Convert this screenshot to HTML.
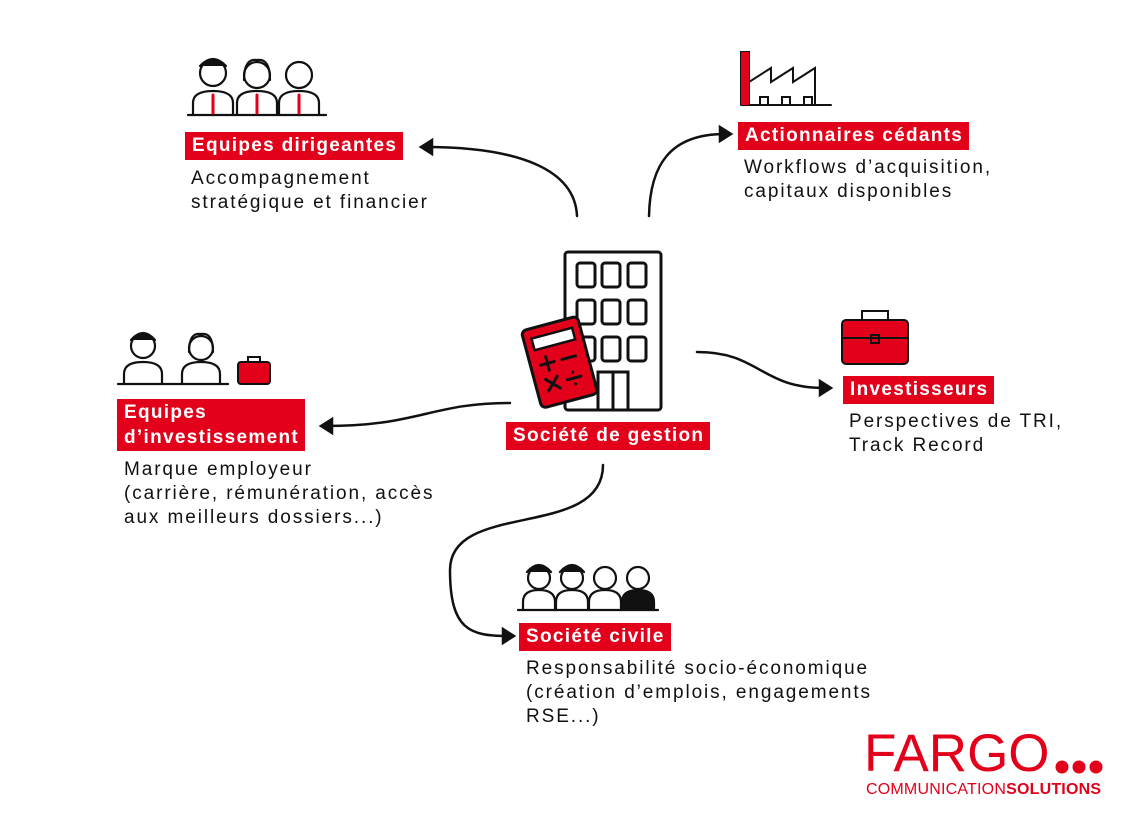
<!DOCTYPE html>
<html><head><meta charset="utf-8"><style>
body{margin:0;width:1140px;height:834px;background:#fff;position:relative;overflow:hidden;font-family:"Liberation Sans",sans-serif;}
.lab{position:absolute;background:#e2001a;color:#fff;font-weight:bold;font-size:19px;letter-spacing:1.3px;line-height:26px;padding:1px 6px 1px 7px;white-space:nowrap;}
.d{position:absolute;font-size:19px;letter-spacing:1.9px;line-height:24px;color:#111;white-space:nowrap;}
svg{position:absolute;left:0;top:0}
</style></head><body>
<svg width="1140" height="834" viewBox="0 0 1140 834" fill="none" stroke="#111" stroke-width="2.5" stroke-linecap="round">
<path d="M577 216 C575 170 520 147 425 147"/><path d="M432 140 L421 147 L432 154 Z" fill="#111"/>
<path d="M649 216 C650 165 670 134 725 134"/><path d="M720 127 L731 134 L720 141 Z" fill="#111"/>
<path d="M697 352 C760 352 760 388 825 388"/><path d="M820 381 L831 388 L820 395 Z" fill="#111"/>
<path d="M510 403 C430 403 420 426 325 426"/><path d="M332 419 L321 426 L332 433 Z" fill="#111"/>
<path d="M603 465 C603 540 450 500 450 570 C450 630 470 636 508 636"/><path d="M503 629 L514 636 L503 643 Z" fill="#111"/>
<rect x="565" y="252" width="96" height="158" rx="3" stroke-width="3"/>
<g stroke-width="3"><rect x="577" y="263" width="18" height="24" rx="3"/><rect x="602" y="263" width="18" height="24" rx="3"/><rect x="628" y="263" width="18" height="24" rx="3"/>
<rect x="577" y="300" width="18" height="24" rx="3"/><rect x="602" y="300" width="18" height="24" rx="3"/><rect x="628" y="300" width="18" height="24" rx="3"/>
<rect x="577" y="337" width="18" height="24" rx="3"/><rect x="602" y="337" width="18" height="24" rx="3"/><rect x="628" y="337" width="18" height="24" rx="3"/>
<rect x="598" y="372" width="30" height="38"/><line x1="613" y1="372" x2="613" y2="410"/></g>
<g transform="rotate(-15 560 360)"><rect x="530" y="322" width="58" height="80" rx="5" fill="#e2001a" stroke-width="3"/><rect x="538" y="332" width="42" height="12" fill="#fff"/>
<path d="M540 360 h14 M547 353 v14 M562 360 h14 M541 375 l12 12 M553 375 l-12 12 M562 381 h14 M569 375 v0.1 M569 387 v0.1" stroke-width="3"/></g>
<path d="M741 105 V52 h8 V105 M749 105 V82 l22-14 v14 l22-14 v14 l22-14 v14 l0 23 M741 105 h90 M760 105 v-8 h8 v8 M782 105 v-8 h8 v8 M804 105 v-8 h8 v8" stroke-width="2"/>
<rect x="741" y="52" width="8" height="53" fill="#e2001a" stroke="none"/>
<rect x="842" y="320" width="66" height="44" rx="4" fill="#e2001a" stroke-width="2"/><path d="M862 320 v-9 h26 v9 M842 338 h66 M871 335 h8 v8 h-8z" stroke-width="2"/>
<rect x="238" y="362" width="32" height="22" rx="3" fill="#e2001a" stroke-width="2"/><path d="M248 362 v-5 h12 v5" stroke-width="2"/>
<g stroke-width="2.2">
<circle cx="213" cy="73" r="13"/><path d="M200 66 q13-14 26 0" fill="#111"/><path d="M193 115 v-12 q0-12 20-12 q20 0 20 12 v12"/>
<circle cx="257" cy="75" r="13"/><path d="M244 80 q0-22 13-20 q13-2 13 20"/><path d="M237 115 v-12 q0-12 20-12 q20 0 20 12 v12"/>
<circle cx="299" cy="75" r="13"/><path d="M279 115 v-12 q0-12 20-12 q20 0 20 12 v12"/>
<path d="M188 115 h138"/></g>
<path d="M213 95 v18 M257 95 v18 M299 95 v18" stroke="#e2001a" stroke-width="3"/>
<g stroke-width="2.2">
<circle cx="143" cy="346" r="12" /><path d="M131 340 q12-14 24 0" fill="#111"/><path d="M124 384 v-10 q0-12 19-12 q19 0 19 12 v10"/>
<circle cx="201" cy="348" r="12"/><path d="M189 352 q0-20 12-18 q12-2 12 18"/><path d="M182 384 v-10 q0-12 19-12 q19 0 19 12 v10"/>
<path d="M118 384 h110"/></g>
<g stroke-width="2.2">
<circle cx="539" cy="578" r="11"/><path d="M527 572 q12-14 24 0" fill="#111"/><path d="M523 610 v-8 q0-12 16-12 q16 0 16 12 v8"/>
<circle cx="572" cy="578" r="11"/><path d="M560 572 q12-14 24 0" fill="#111"/><path d="M556 610 v-8 q0-12 16-12 q16 0 16 12 v8"/>
<circle cx="605" cy="578" r="11"/><path d="M589 610 v-8 q0-12 16-12 q16 0 16 12 v8"/>
<circle cx="638" cy="578" r="11"/><path d="M622 610 v-8 q0-12 16-12 q16 0 16 12 v8" fill="#111"/>
<path d="M518 610 h140"/></g>
<circle cx="1062" cy="767" r="6.5" fill="#e2001a" stroke="none"/><circle cx="1079" cy="767" r="6.5" fill="#e2001a" stroke="none"/><circle cx="1096" cy="767" r="6.5" fill="#e2001a" stroke="none"/>
</svg>

<div class="lab" style="left:185px;top:132px;">Equipes dirigeantes</div>
<div class="d" style="left:191px;top:167px;">Accompagnement<br>stratégique et financier</div>
<div class="lab" style="left:738px;top:122px;">Actionnaires cédants</div>
<div class="d" style="left:744px;top:156px;">Workflows d’acquisition,<br>capitaux disponibles</div>
<div class="lab" style="left:843px;top:376px;">Investisseurs</div>
<div class="d" style="left:849px;top:410px;">Perspectives de TRI,<br>Track Record</div>
<div class="lab" style="left:117px;top:399px;line-height:25px;">Equipes<br>d’investissement</div>
<div class="d" style="left:124px;top:458px;">Marque employeur<br>(carrière, rémunération, accès<br>aux meilleurs dossiers...)</div>
<div class="lab" style="left:506px;top:422px;">Société de gestion</div>
<div class="lab" style="left:519px;top:623px;">Société civile</div>
<div class="d" style="left:526px;top:657px;">Responsabilité socio-économique<br>(création d’emplois, engagements<br>RSE...)</div>

<div style="position:absolute;left:864px;top:727px;color:#e2001a;font-size:53px;line-height:54px;letter-spacing:0px;">FARGO</div>
<div style="position:absolute;left:866px;top:781px;color:#e2001a;font-size:16px;line-height:18px;letter-spacing:0.2px;white-space:nowrap;">COMMUNICATION<b>SOLUTIONS</b></div>
</body></html>
